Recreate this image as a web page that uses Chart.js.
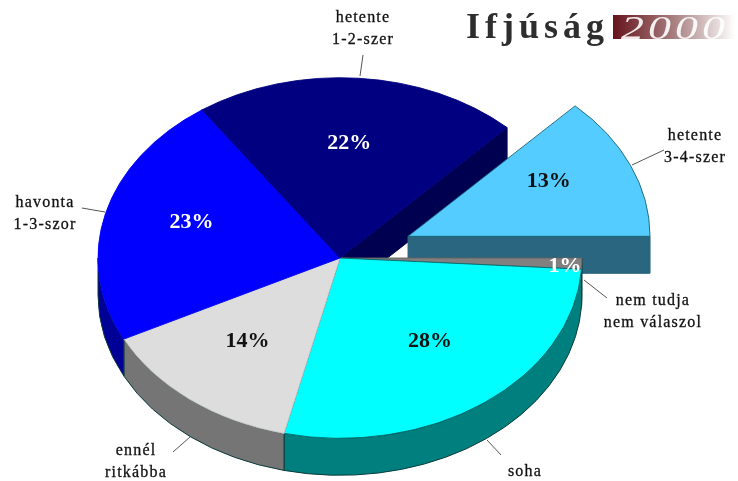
<!DOCTYPE html>
<html>
<head>
<meta charset="utf-8">
<style>
  html, body { margin: 0; background: #fff; }
  canvas { display: block; filter: blur(0.6px); }
</style>
<script src="https://cdn.jsdelivr.net/npm/chart.js"></script>
</head>
<body>
<canvas id="my-chart" width="738" height="481"></canvas>
<script>
// starts at 3 o'clock, goes clockwise
const categories = ['nem tudja nem válaszol', 'soha', 'ennél ritkábba', 'havonta 1-3-szor', 'hetente 1-2-szer', 'hetente 3-4-szer'];
const percents = [1, 28, 14, 23, 22, 13];
const explode = [0, 0, 0, 0, 0, 74];

const topColors = ['#808080', '#00ffff', '#dddddd', '#0000ff', '#000080', '#55ccff'];
const wallColors = ['#555555', '#007f7f', '#757575', '#000096', '#000050', '#2b6680'];
const edgeColors = ['#606060', '#006a6a', '#c8c8c8', '#0000ff', '#000080', '#14606e'];
const percentColors = ['#ffffff', '#111111', '#111111', '#ffffff', '#ffffff', '#111111'];
const percentRadius = [0.93, 0.59, 0.59, 0.65, 0.65, 0.65];
const percentNudge = [[0, 3], [5, -2], [-4, 0], [4, -7], [-3, 2], [-4, -9]];

const calloutLines = [['nem tudja', 'nem válaszol'], ['soha'], ['ennél', 'ritkábba'], ['havonta', '1-3-szor'], ['hetente', '1-2-szer'], ['hetente', '3-4-szer']];
const calloutText = [[653, 301], [525, 472], [136, 451], [45, 203], [363, 18], [695, 136]];
const calloutLeaders = [[584, 280, 607, 298], [487, 440, 501, 455], [190, 437, 173, 452], [105, 212, 82, 208], [360, 76, 363, 55], [632, 165, 664, 150]];

const CENTER_X = 340;
const CENTER_Y = 258;
const SQUASH = 0.745;
const DEPTH = 37;
const SERIF = '"Liberation Serif", serif';

function screenPoint(arcX, arcY, chart) {
    const area = chart.chartArea;
    return {
        x: CENTER_X + arcX - (area.left + area.right) / 2,
        y: CENTER_Y + (arcY - (area.top + area.bottom) / 2) * SQUASH
    };
}

function drawWalls(chart, ctx) {
    const arcs = chart.getDatasetMeta(0).data;
    ctx.lineWidth = 1;
    // cut faces of the back slices first, they sit behind everything else
    arcs.forEach((arc, i) => {
        if (arc.endAngle <= Math.PI) return;
        const p = screenPoint(arc.x, arc.y, chart);
        const rimX = p.x + Math.cos(arc.endAngle) * arc.outerRadius;
        const rimY = p.y + Math.sin(arc.endAngle) * arc.outerRadius * SQUASH;
        ctx.fillStyle = wallColors[i];
        ctx.strokeStyle = wallColors[i];
        ctx.beginPath();
        ctx.moveTo(p.x, p.y);
        ctx.lineTo(rimX, rimY);
        ctx.lineTo(rimX, rimY + DEPTH);
        ctx.lineTo(p.x, p.y + DEPTH);
        ctx.closePath();
        ctx.fill();
        ctx.stroke();
    });
    arcs.forEach((arc, i) => {
        if (arc.startAngle >= Math.PI) return;
        const p = screenPoint(arc.x, arc.y, chart);
        const end = Math.min(arc.endAngle, Math.PI);
        const ry = arc.outerRadius * SQUASH;
        ctx.fillStyle = wallColors[i];
        ctx.strokeStyle = '#0b3b3b';
        ctx.beginPath();
        ctx.ellipse(p.x, p.y, arc.outerRadius, ry, 0, arc.startAngle, end);
        ctx.ellipse(p.x, p.y + DEPTH, arc.outerRadius, ry, 0, end, arc.startAngle, true);
        ctx.closePath();
        ctx.fill();
        ctx.stroke();
    });
}

function drawPercents(chart, ctx) {
    ctx.font = 'bold 22px ' + SERIF;
    ctx.letterSpacing = '0px';
    ctx.textAlign = 'center';
    ctx.textBaseline = 'middle';
    chart.getDatasetMeta(0).data.forEach((arc, i) => {
        const mid = (arc.startAngle + arc.endAngle) / 2;
        const p = screenPoint(arc.x, arc.y, chart);
        const r = arc.outerRadius * percentRadius[i];
        ctx.fillStyle = percentColors[i];
        ctx.fillText(percents[i] + '%',
            p.x + Math.cos(mid) * r + percentNudge[i][0],
            p.y + Math.sin(mid) * r * SQUASH + percentNudge[i][1]);
    });
}

function drawCallouts(ctx) {
    ctx.strokeStyle = '#555555';
    ctx.lineWidth = 1;
    calloutLeaders.forEach(l => {
        ctx.beginPath();
        ctx.moveTo(l[0], l[1]);
        ctx.lineTo(l[2], l[3]);
        ctx.stroke();
    });
    ctx.font = '16px ' + SERIF;
    ctx.letterSpacing = '1.2px';
    ctx.textAlign = 'center';
    ctx.textBaseline = 'middle';
    ctx.fillStyle = '#111111';
    ctx.strokeStyle = '#111111';
    ctx.lineWidth = 0.3;
    calloutLines.forEach((lines, i) => {
        lines.forEach((line, n) => {
            ctx.fillText(line, calloutText[i][0], calloutText[i][1] + n * 22);
            ctx.strokeText(line, calloutText[i][0], calloutText[i][1] + n * 22);
        });
    });
}

function drawLogo(ctx) {
    ctx.textAlign = 'left';
    ctx.textBaseline = 'alphabetic';
    ctx.font = 'bold 36px ' + SERIF;
    ctx.letterSpacing = '5px';
    ctx.fillStyle = '#2e2e2e';
    ctx.fillText('Ifjúság', 466, 38);

    const fade = ctx.createLinearGradient(613, 0, 735, 0);
    fade.addColorStop(0, '#66141c');
    fade.addColorStop(0.5, '#a87f80');
    fade.addColorStop(1, '#ffffff');
    ctx.fillStyle = fade;
    ctx.fillRect(613, 15, 122, 24);

    ctx.font = 'italic 34px ' + SERIF;
    ctx.letterSpacing = '0px';
    ctx.fillStyle = 'rgba(255,255,255,0.9)';
    '2000'.split('').forEach((digit, i) => {
        ctx.save();
        ctx.beginPath();
        ctx.rect(613, 15, 125, 24);
        ctx.clip();
        ctx.translate(621 + i * 27, 39);
        ctx.scale(1.35, 1);
        ctx.fillText(digit, 0, 0);
        ctx.restore();
    });
}

const pseudo3d = {
    id: 'pseudo3d',
    afterDatasetsUpdate(chart) {
        chart.getDatasetMeta(0).data.forEach((arc, i) => {
            const mid = (arc.startAngle + arc.endAngle) / 2;
            arc.x += Math.cos(mid) * explode[i];
            arc.y += Math.sin(mid) * explode[i];
        });
    },
    beforeDatasetsDraw(chart) {
        const ctx = chart.ctx;
        const area = chart.chartArea;
        drawWalls(chart, ctx);
        ctx.save();
        ctx.translate(CENTER_X, CENTER_Y);
        ctx.scale(1, SQUASH);
        ctx.translate(-(area.left + area.right) / 2, -(area.top + area.bottom) / 2);
    },
    afterDatasetsDraw(chart) {
        const ctx = chart.ctx;
        ctx.restore();
        ctx.save();
        drawPercents(chart, ctx);
        drawCallouts(ctx);
        drawLogo(ctx);
        ctx.restore();
    }
};

const ctx = document.getElementById('my-chart').getContext('2d');
const myChart = new Chart(ctx, {
    type: 'pie',
    data: {
        labels: categories,
        datasets: [{
            data: percents,
            backgroundColor: topColors,
            borderColor: edgeColors,
            borderWidth: 1,
            clip: false
        }]
    },
    options: {
        responsive: false,
        animation: false,
        rotation: 90,
        radius: 242,
        events: [],
        plugins: {
            legend: { display: false },
            tooltip: { enabled: false }
        }
    },
    plugins: [pseudo3d]
});
</script>
</body>
</html>
